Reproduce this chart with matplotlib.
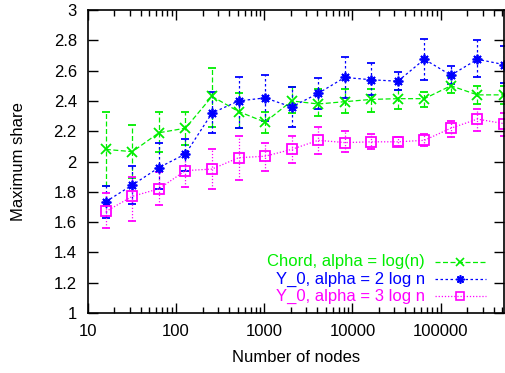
import matplotlib
matplotlib.use("Agg")
import matplotlib.pyplot as plt
from matplotlib.lines import Line2D
from matplotlib.ticker import LogLocator, NullFormatter, MultipleLocator, FormatStrFormatter

plt.rcParams['font.family'] = ['Liberation Sans', 'DejaVu Sans']

# === DATA ===
nodes = [16, 32, 64, 128, 256, 512, 1024, 2048, 4096, 8192,
         16384, 32768, 65536, 131072, 262144, 524288]

chord_mean = [2.08, 2.065, 2.19, 2.22, 2.43, 2.33, 2.26, 2.40, 2.38, 2.395,
              2.41, 2.415, 2.415, 2.50, 2.44, 2.44]
chord_lo = [1.84, 1.89, 2.06, 2.11, 2.23, 2.22, 2.19, 2.32, 2.30, 2.32,
            2.33, 2.35, 2.36, 2.45, 2.38, 2.38]
chord_hi = [2.33, 2.24, 2.33, 2.33, 2.62, 2.45, 2.33, 2.49, 2.48, 2.48,
            2.48, 2.47, 2.46, 2.56, 2.50, 2.50]

y0_2_mean = [1.735, 1.845, 1.96, 2.05, 2.32, 2.40, 2.42, 2.36, 2.45, 2.555,
             2.54, 2.53, 2.675, 2.57, 2.675, 2.64]
y0_2_lo = [1.63, 1.72, 1.82, 1.94, 2.19, 2.22, 2.27, 2.23, 2.35, 2.42,
           2.44, 2.47, 2.54, 2.51, 2.56, 2.52]
y0_2_hi = [1.84, 1.97, 2.12, 2.15, 2.46, 2.56, 2.57, 2.49, 2.55, 2.69,
           2.65, 2.59, 2.81, 2.63, 2.80, 2.76]

y0_3_mean = [1.67, 1.77, 1.82, 1.94, 1.95, 2.025, 2.035, 2.08, 2.14, 2.125,
             2.13, 2.13, 2.14, 2.22, 2.28, 2.25]
y0_3_lo = [1.56, 1.61, 1.71, 1.83, 1.82, 1.88, 1.94, 1.99, 2.05, 2.06,
           2.08, 2.10, 2.10, 2.16, 2.20, 2.17]
y0_3_hi = [1.79, 1.90, 1.93, 2.05, 2.08, 2.17, 2.12, 2.17, 2.23, 2.20,
           2.18, 2.16, 2.18, 2.27, 2.35, 2.32]

labels = ["Chord, alpha = log(n)", "Y_0, alpha = 2 log n", "Y_0, alpha = 3 log n"]
colors = ["#00ee00", "#0000ff", "#ff00ff"]
markers = ["x", (8, 2, 0), "s"]
msizes = [6.5, 7, 6.5]
dashes = [(4, 2), (2, 2), (1, 1.5)]

series = [(chord_mean, chord_lo, chord_hi),
          (y0_2_mean, y0_2_lo, y0_2_hi),
          (y0_3_mean, y0_3_lo, y0_3_hi)]

# === PLOT ===
fig = plt.figure(figsize=(5.05, 3.73), dpi=100)
ax = fig.add_axes([0.174, 0.161, 0.824, 0.812])

for (mean, lo, hi), col, mk, ms, ds in zip(series, colors, markers, msizes, dashes):
    err = [[m - l for m, l in zip(mean, lo)], [h - m for m, h in zip(mean, hi)]]
    line, caps, bars = ax.errorbar(nodes, mean, yerr=err, color=col, lw=0.9,
                                   elinewidth=0.9, capsize=3, capthick=0.9,
                                   marker=mk, markersize=ms,
                                   markerfacecolor='none', markeredgewidth=1.3)
    line.set_dashes(ds)
    for b in bars:
        b.set_linestyle((0, ds))

ax.set_xscale('log')
ax.set_xlim(10, 524288)
ax.set_ylim(1, 3)
ax.xaxis.set_major_locator(LogLocator(base=10, numticks=10))
ax.xaxis.set_minor_locator(LogLocator(base=10, subs=range(2, 10), numticks=10))
ax.xaxis.set_minor_formatter(NullFormatter())
ax.xaxis.set_major_formatter(FormatStrFormatter('%d'))
ax.yaxis.set_major_locator(MultipleLocator(0.2))
ax.yaxis.set_major_formatter(plt.FuncFormatter(lambda v, p: ('%.1f' % v).rstrip('0').rstrip('.')))

ax.tick_params(which='both', direction='in', top=True, right=True, labelsize=12, width=1)
ax.tick_params(which='major', length=7)
ax.tick_params(which='minor', length=4)
ax.tick_params(axis='x', pad=8)
ax.tick_params(axis='y', pad=8)
for s in ax.spines.values():
    s.set_linewidth(1.2)

ax.set_xlabel("Number of nodes", fontsize=12, labelpad=8)
ax.set_ylabel("Maximum share", fontsize=12, labelpad=20)

# legend, gnuplot style: right-justified text with sample to its right
ty = [0.169, 0.112, 0.056]
for lab, col, mk, ms, ds, yy in zip(labels, colors, markers, msizes, dashes, ty):
    ax.text(0.81, yy, lab, color=col, fontsize=12, ha='right', va='center',
            transform=ax.transAxes)
    l = Line2D([0.834, 0.957], [yy, yy], color=col, lw=0.9, transform=ax.transAxes)
    l.set_dashes(ds)
    ax.add_line(l)
    ax.add_line(Line2D([0.894], [yy], color=col, marker=mk, markersize=ms - 1,
                       markerfacecolor='none', markeredgewidth=1.2, transform=ax.transAxes))

fig.savefig("out.png", dpi=100)
